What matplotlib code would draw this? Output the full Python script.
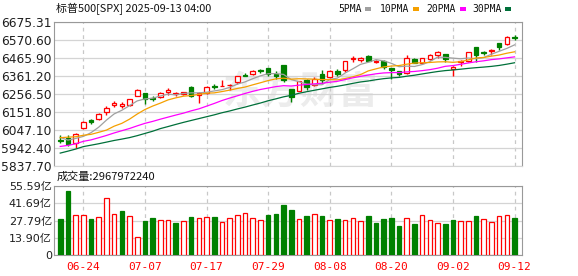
import numpy as np
import matplotlib.pyplot as plt
from matplotlib.patches import Rectangle

# Datos (SPX diario, 2025-06-18 a 2025-09-12)
fechas = ['06-18', '06-20', '06-23', '06-24', '06-25', '06-26', '06-27', '06-30', '07-01', '07-02',
          '07-03', '07-07', '07-08', '07-09', '07-10', '07-11', '07-14', '07-15', '07-16', '07-17',
          '07-18', '07-21', '07-22', '07-23', '07-24', '07-25', '07-28', '07-29', '07-30', '07-31',
          '08-01', '08-04', '08-05', '08-06', '08-07', '08-08', '08-11', '08-12', '08-13', '08-14',
          '08-15', '08-18', '08-19', '08-20', '08-21', '08-22', '08-25', '08-26', '08-27', '08-28',
          '08-29', '09-02', '09-03', '09-04', '09-05', '09-08', '09-09', '09-10', '09-11', '09-12']

apertura = [5987.9, 5999.7, 5969.7, 6061.2, 6104.2, 6112.1, 6150.7, 6193.4, 6187.3, 6193.0,
            6246.5, 6259.5, 6234.0, 6240.7, 6266.5, 6255.7, 6255.0, 6295.3, 6248.0, 6263.0,
            6305.9, 6304.7, 6306.6, 6326.9, 6368.6, 6370.0, 6397.7, 6409.3, 6374.3, 6427.0,
            6287.7, 6271.7, 6336.2, 6309.3, 6374.1, 6356.3, 6389.7, 6395.2, 6458.8, 6453.8,
            6478.5, 6445.0, 6446.5, 6407.0, 6389.0, 6380.0, 6457.7, 6437.9, 6457.6, 6486.0,
            6488.1, 6401.5, 6445.0, 6451.0, 6529.0, 6498.6, 6506.0, 6554.6, 6546.3, 6587.5]
maximo = [6018.2, 6018.2, 6028.8, 6101.8, 6108.5, 6146.5, 6187.7, 6215.1, 6210.8, 6227.6,
          6284.7, 6262.5, 6242.7, 6269.2, 6290.2, 6266.0, 6270.3, 6302.0, 6266.0, 6302.3,
          6315.6, 6336.1, 6316.1, 6360.6, 6381.3, 6395.8, 6401.1, 6409.8, 6389.7, 6427.0,
          6288.0, 6330.0, 6343.6, 6352.8, 6395.2, 6395.2, 6400.3, 6446.2, 6480.3, 6473.7,
          6481.3, 6455.4, 6456.6, 6410.0, 6393.0, 6481.3, 6466.9, 6466.9, 6487.9, 6508.2,
          6491.4, 6416.5, 6453.0, 6502.5, 6532.7, 6508.0, 6520.0, 6555.9, 6592.9, 6600.2]
minimo = [5971.9, 5952.6, 5943.2, 6055.6, 6080.1, 6107.2, 6132.4, 6178.0, 6177.1, 6188.3,
          6246.5, 6201.0, 6217.0, 6235.0, 6253.0, 6246.9, 6248.0, 6241.5, 6201.6, 6256.5,
          6285.4, 6303.8, 6281.7, 6317.5, 6360.6, 6368.5, 6380.2, 6364.1, 6346.1, 6327.9,
          6212.7, 6271.7, 6281.4, 6302.3, 6317.4, 6350.7, 6364.1, 6385.8, 6445.0, 6441.6,
          6447.0, 6437.8, 6400.2, 6343.9, 6360.0, 6370.0, 6438.0, 6436.8, 6453.0, 6463.5,
          6443.5, 6360.6, 6417.0, 6445.2, 6444.0, 6483.0, 6483.0, 6514.4, 6538.9, 6572.5]
cierre = [5980.87, 5967.84, 6025.17, 6092.18, 6092.16, 6141.02, 6173.07, 6204.95, 6198.01, 6227.42,
          6279.35, 6229.98, 6225.52, 6263.26, 6280.46, 6259.75, 6268.56, 6243.76, 6263.70, 6297.36,
          6296.79, 6305.60, 6309.62, 6358.91, 6363.35, 6388.64, 6389.77, 6370.86, 6362.90, 6339.39,
          6238.01, 6329.94, 6299.19, 6345.06, 6340.00, 6389.45, 6373.45, 6445.76, 6466.58, 6468.54,
          6449.80, 6449.15, 6411.37, 6395.78, 6370.17, 6466.91, 6439.32, 6465.94, 6481.40, 6501.86,
          6460.26, 6415.54, 6448.26, 6502.08, 6481.50, 6495.15, 6512.61, 6532.04, 6587.47, 6584.29]
cierre_previo = 5982.72

# Medias moviles, tal como las traza el grafico
ma5 = [6003.8, 5988.4, 5998.0, 6009.8, 6031.6, 6063.6, 6104.6, 6140.6, 6161.8, 6188.8,
       6216.4, 6227.8, 6232.0, 6245.0, 6255.6, 6251.8, 6259.6, 6263.2, 6263.4, 6266.8,
       6274.2, 6281.6, 6294.8, 6313.8, 6327.0, 6345.4, 6362.2, 6374.4, 6375.2, 6370.4,
       6340.2, 6328.2, 6313.8, 6310.2, 6310.4, 6340.6, 6349.2, 6378.6, 6403.0, 6428.8,
       6441.0, 6456.2, 6449.2, 6435.0, 6415.2, 6418.6, 6416.6, 6427.6, 6444.6, 6471.0,
       6469.6, 6465.0, 6461.4, 6465.6, 6461.6, 6468.6, 6488.0, 6504.8, 6521.8, 6542.2]
ma10 = [6002.5, 6005.4, 6007.9, 6016.5, 6021.8, 6033.7, 6046.5, 6069.3, 6085.8, 6110.2,
        6140.0, 6166.2, 6186.3, 6203.4, 6222.2, 6234.1, 6243.7, 6247.6, 6254.2, 6261.2,
        6263.0, 6270.6, 6279.0, 6288.6, 6296.9, 6309.8, 6321.9, 6334.6, 6344.5, 6348.7,
        6342.8, 6345.2, 6344.1, 6342.7, 6340.4, 6340.4, 6338.7, 6346.2, 6356.6, 6369.6,
        6390.8, 6402.7, 6413.9, 6419.0, 6422.0, 6429.8, 6436.4, 6438.4, 6439.8, 6443.1,
        6444.1, 6440.8, 6444.5, 6455.1, 6466.3, 6469.1, 6476.5, 6483.1, 6493.7, 6501.9]
ma20 = [5951.4, 5957.5, 5966.7, 5981.1, 5989.6, 6002.2, 6015.3, 6029.9, 6043.0, 6055.9,
        6071.3, 6085.8, 6097.1, 6110.0, 6122.0, 6133.9, 6145.1, 6158.5, 6170.0, 6185.7,
        6201.5, 6218.4, 6232.7, 6246.0, 6259.6, 6272.0, 6282.8, 6291.1, 6299.4, 6305.0,
        6302.9, 6307.9, 6311.6, 6315.7, 6318.7, 6325.1, 6330.3, 6340.4, 6350.6, 6359.2,
        6366.8, 6374.0, 6379.0, 6380.9, 6381.2, 6385.1, 6387.6, 6392.3, 6398.2, 6406.4,
        6417.5, 6421.8, 6429.2, 6437.1, 6444.2, 6449.5, 6456.5, 6460.8, 6466.8, 6472.5]
ma30 = [5912.8, 5924.1, 5936.1, 5950.5, 5958.8, 5967.2, 5976.6, 5986.2, 5994.2, 6002.9,
        6014.2, 6027.1, 6039.9, 6055.2, 6067.1, 6079.5, 6091.4, 6102.5, 6113.4, 6124.3,
        6135.2, 6147.4, 6157.7, 6169.5, 6180.3, 6192.5, 6204.0, 6217.2, 6228.2, 6240.0,
        6248.6, 6260.7, 6269.8, 6278.2, 6286.5, 6294.8, 6301.4, 6309.5, 6318.4, 6326.5,
        6332.2, 6339.5, 6345.7, 6350.1, 6353.1, 6360.0, 6365.7, 6373.1, 6380.3, 6387.1,
        6392.6, 6396.2, 6400.8, 6405.6, 6409.6, 6413.1, 6417.2, 6422.6, 6430.0, 6438.2]

# Volumen en 亿
volumen = [28.7, 51.8, 32.0, 32.0, 28.7, 30.4, 45.8, 32.8, 35.3, 31.2,
           14.9, 27.1, 29.6, 27.9, 27.9, 25.5, 27.1, 30.4, 29.6, 30.4,
           30.4, 26.3, 29.6, 32.0, 33.6, 29.6, 27.9, 32.0, 32.8, 40.1,
           36.1, 29.3, 31.2, 32.8, 31.2, 27.9, 28.7, 28.5, 30.1, 27.1,
           31.2, 25.5, 28.7, 29.6, 23.1, 30.1, 24.7, 32.0, 28.5, 25.5,
           24.7, 27.9, 27.1, 27.1, 31.2, 29.3, 26.3, 31.2, 32.0, 29.68]

precio_ticks = [5837.70, 5942.40, 6047.10, 6151.80, 6256.50, 6361.20, 6465.90, 6570.60, 6675.31]
precio_labels = ['5837.70', '5942.40', '6047.10', '6151.80', '6256.50', '6361.20', '6465.90', '6570.60', '6675.31']
vol_ticks = [0, 13.90, 27.79, 41.69, 55.59]
vol_labels = ['0', '13.90亿', '27.79亿', '41.69亿', '55.59亿']

ROJO = '#ff0000'
VERDE = '#008000'
colores_ma = {'5PMA': '#a0a0a0', '10PMA': '#f5a000', '20PMA': '#ff00ff', '30PMA': '#00703a'}

fig = plt.figure(figsize=(5.78, 2.76), dpi=100)
W, H = 578, 276

def caja(x0, y0, x1, y1):
    return [x0 / W, 1 - y1 / H, (x1 - x0) / W, (y1 - y0) / H]

ax = fig.add_axes(caja(54, 22, 522, 166))
ax2 = fig.add_axes(caja(54, 186, 522, 255))

n = len(cierre)
x = np.arange(n)
ancho = 0.6
pos_fechas = list(range(3, n, 8))

# Velas
for i in range(n):
    o, h, l, c = apertura[i], maximo[i], minimo[i], cierre[i]
    sube = c >= o
    col = ROJO if sube else VERDE
    ax.vlines(i, l, h, color=col, lw=1, zorder=2)
    alto = max(abs(c - o), 0.8)
    ax.add_patch(Rectangle((i - ancho / 2, min(o, c)), ancho, alto,
                           facecolor='white' if sube else VERDE,
                           edgecolor=col, lw=0.9, zorder=3))

ax.plot(x, ma5, color=colores_ma['5PMA'], lw=0.9, zorder=4)
ax.plot(x, ma10, color=colores_ma['10PMA'], lw=0.9, zorder=4)
ax.plot(x, ma20, color=colores_ma['20PMA'], lw=0.9, zorder=4)
ax.plot(x, ma30, color=colores_ma['30PMA'], lw=0.9, zorder=4)

ax.text(0.526, 0.51, '东方财富', transform=ax.transAxes, fontsize=28, fontweight='bold',
        style='italic', color='#ececec', family=['Noto Sans CJK SC'], ha='center', va='center', zorder=0)

ax.set_xlim(-0.81, 59.97)
ax.set_ylim(precio_ticks[0], precio_ticks[-1])
ax.set_yticks(precio_ticks)
ax.set_yticklabels(precio_labels, fontsize=8.8, color='#1e1e1e')
ax.set_xticks(pos_fechas)
ax.set_xticklabels([])
ax.tick_params(axis='both', length=0, pad=1.5)
ax.grid(axis='y', color='#d4d4d4', lw=0.9, ls='-')
ax.grid(axis='x', color='#c8c8c8', lw=0.9, ls=(0, (3, 3)))
ax.set_axisbelow(True)
for s in ax.spines.values():
    s.set_color('#999999')
ax.spines['bottom'].set_color('#d4d4d4')

# Volumen: color segun cierre anterior
previos = [cierre_previo] + cierre[:-1]
for i in range(n):
    sube = cierre[i] >= previos[i]
    ax2.bar(i, volumen[i], width=ancho, facecolor='white' if sube else VERDE,
            edgecolor=ROJO if sube else VERDE, lw=0.9, zorder=3)

ax2.set_xlim(-0.81, 59.97)
ax2.set_ylim(0, 55.59)
ax2.set_yticks(vol_ticks)
ax2.set_yticklabels(vol_labels, fontsize=8, color='#1e1e1e', family=['DejaVu Sans', 'Noto Sans CJK SC'])
ax2.set_xticks(pos_fechas)
ax2.set_xticklabels([fechas[i] for i in pos_fechas], fontsize=8, color=ROJO, family='DejaVu Sans Mono')
ax2.tick_params(axis='y', length=0, pad=1.5)
ax2.tick_params(axis='x', length=0, pad=5)
ax2.grid(axis='y', color='#d4d4d4', lw=0.9, ls='-')
ax2.grid(axis='x', color='#c8c8c8', lw=0.9, ls=(0, (3, 3)))
ax2.set_axisbelow(True)
for s in ax2.spines.values():
    s.set_color('#999999')

# Titulos
fig.text(56 / W, 1 - 9 / H, '标普500[SPX] 2025-09-13 04:00', fontsize=7.9, color='#111111',
         family=['Noto Sans CJK SC', 'DejaVu Sans'], ha='left', va='center')
fig.text(57 / W, 1 - 177 / H, '成交量:2967972240', fontsize=8, color='#111111',
         family=['Noto Sans CJK SC', 'DejaVu Sans'], ha='left', va='center')

# Leyenda de medias
leyenda = [('5PMA', 338, 365), ('10PMA', 380, 413), ('20PMA', 426, 460), ('30PMA', 472, 505)]
for nombre, xt, xc in leyenda:
    fig.text(xt / W, 1 - 8.5 / H, nombre, fontsize=7, color='#111111', family='DejaVu Sans Mono',
             ha='left', va='center')
    fig.patches.append(Rectangle((xc / W, 1 - 10.5 / H), 6 / W, 4 / H, transform=fig.transFigure,
                                 facecolor=colores_ma[nombre], edgecolor='none'))

fig.savefig('out.png', dpi=100)
